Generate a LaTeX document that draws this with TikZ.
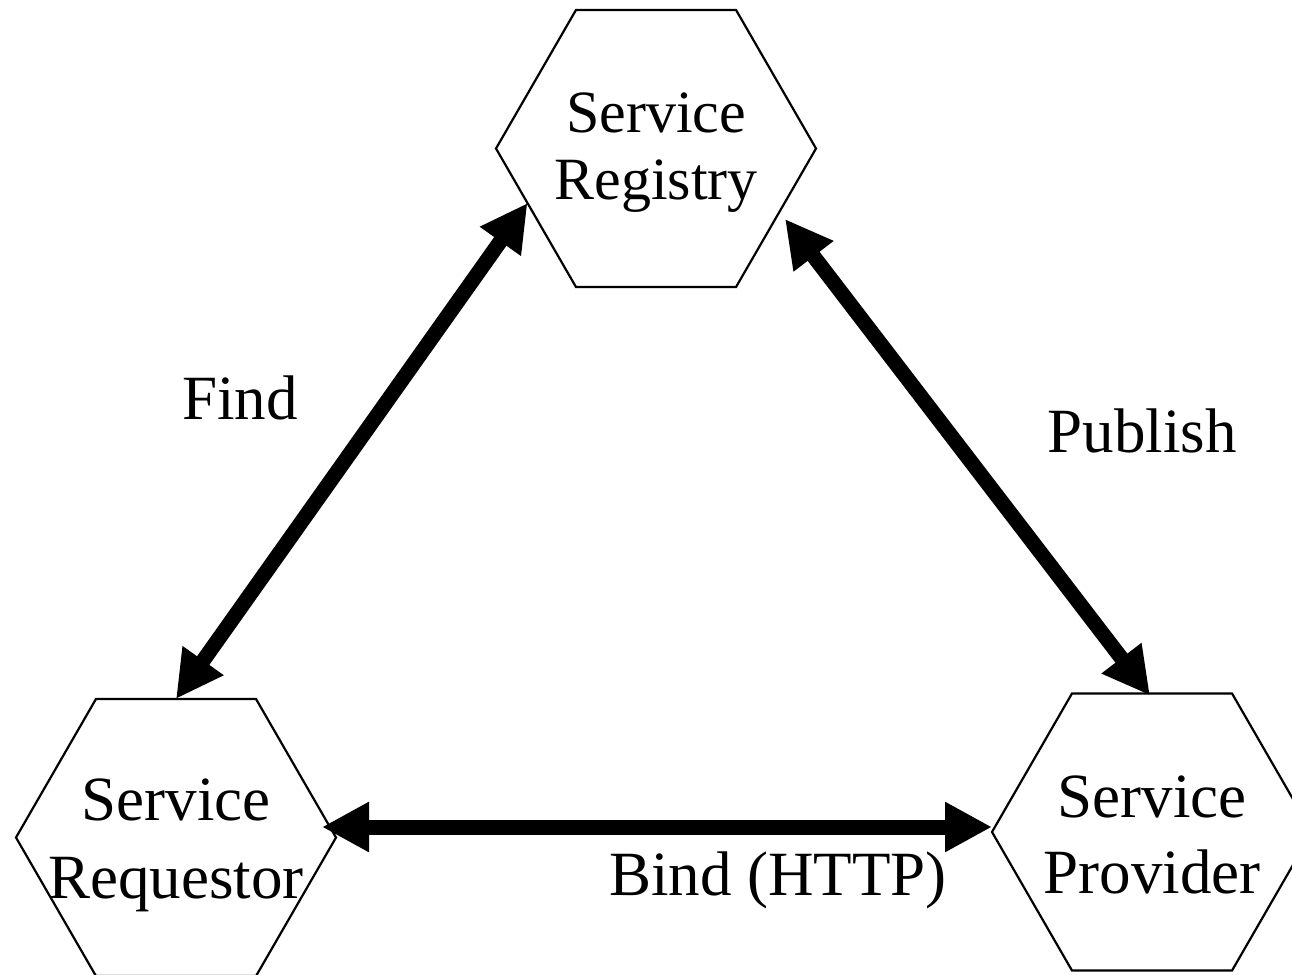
\documentclass[tikz,border=0pt]{standalone}
\usepackage{fontspec}
\setmainfont{Liberation Serif}
\usetikzlibrary{shapes.geometric,arrows.meta,calc}
\begin{document}
\begin{tikzpicture}[x=1pt,y=-1pt,
  hexa/.style={draw, line width=2.2pt, regular polygon, regular polygon sides=6,
    minimum size=320pt, inner sep=0pt, outer sep=0pt},
  toptxt/.style={anchor=base, inner sep=0pt, font=\fontsize{60}{67}\selectfont},
  txt/.style={anchor=base, inner sep=0pt, font=\fontsize{63}{75}\selectfont},
  link/.style={line width=15pt,
    {Triangle[length=47pt,width=47pt]}-{Triangle[length=47pt,width=47pt]}}]
\useasboundingbox (0,0) rectangle (1292,974);
\clip (0,0) rectangle (1292,974);

% hexagons
\node[hexa] (reg)  at (656,148.5) {};
\node[hexa] (req)  at (176,837.5) {};
\node[hexa] (prov) at (1152,832) {};

% texts inside hexagons
\node[toptxt] (reg1) at (656,132) {Service};
\node[toptxt] (reg2) at (656,199) {Registry};
\node[txt] (req1) at (176,820) {Service};
\node[txt] (req2) at (176,898) {Requestor};
\node[txt] (prov1) at (1152,817) {Service};
\node[txt] (prov2) at (1152,893) {Provider};

% connector labels
\node[txt] (find) at (240,419) {Find};
\node[txt] (publish) at (1142,452) {Publish};
\node[txt] (bind) at (778,895) {Bind (HTTP)};

% connector end points
\coordinate (findTop) at (reg.203.6);
\coordinate (pubTop) at ($(reg.center)+(129,70.5)$);
\coordinate (pubBot) at ($(prov.north)+(-2,2)$);
\coordinate (bindL) at ($(req.center)+(146,-10.5)$);
\coordinate (bindR) at ($(prov.west)+(0,-5)$);

% connectors
\draw[link] (req.north) -- (findTop);
\draw[link] (pubTop) -- (pubBot);
\draw[link] (bindL) -- (bindR);
\end{tikzpicture}
\end{document}
